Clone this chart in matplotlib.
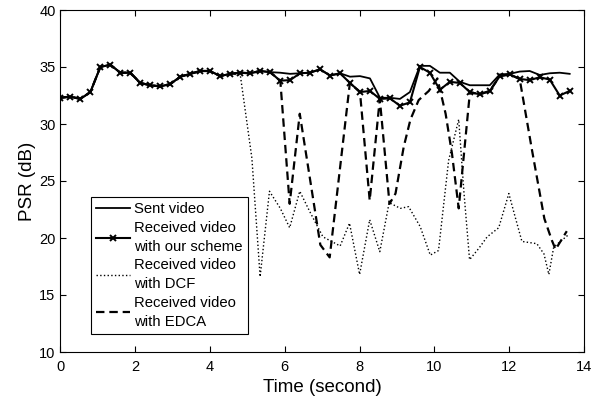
import numpy as np
import matplotlib
matplotlib.use("Agg")
import matplotlib.pyplot as plt

# datos (PSR en dB frente al tiempo en segundos)
t_rx = np.arange(52) * 0.267  # instantes de muestreo del video

psr_rx = [32.3, 32.4, 32.2, 32.8, 35.0, 35.2, 34.5, 34.5, 33.6, 33.4,
          33.3, 33.5, 34.15, 34.4, 34.65, 34.65, 34.2, 34.4, 34.5, 34.45,
          34.65, 34.55, 33.8, 33.85, 34.45, 34.5, 34.8, 34.25, 34.45, 33.6,
          32.8, 32.9, 32.2, 32.25, 31.6, 31.9, 35.0, 34.5, 33.0, 33.7,
          33.6, 32.8, 32.6, 32.9, 34.2, 34.35, 33.95, 33.85, 34.1, 33.9,
          32.5, 32.9]

psr_sent = [32.3, 32.4, 32.2, 32.8, 35.0, 35.2, 34.5, 34.5, 33.6, 33.4,
            33.3, 33.5, 34.15, 34.4, 34.65, 34.65, 34.2, 34.4, 34.5, 34.45,
            34.65, 34.55, 34.5, 34.4, 34.45, 34.5, 34.8, 34.25, 34.45, 34.15,
            34.2, 34.0, 32.3, 32.3, 32.2, 32.8, 35.1, 35.1, 34.5, 34.5,
            33.7, 33.4, 33.4, 33.4, 34.35, 34.4, 34.6, 34.65, 34.3, 34.45,
            34.5, 34.4]

# DCF: igual que el recibido hasta ~4.5 s, luego se cae
t_dcf_tail = [4.81, 5.12, 5.34, 5.59, 5.88, 6.13, 6.40, 6.67, 7.02, 7.48,
              7.73, 8.00, 8.27, 8.54, 8.79, 9.09, 9.31, 9.62, 9.89, 10.11,
              10.38, 10.65, 10.79, 10.94, 11.19, 11.41, 11.72, 11.99, 12.13, 12.34,
              12.74, 12.93, 13.06, 13.19, 13.37, 13.59]
psr_dcf_tail = [34.3, 27.0, 16.6, 24.1, 22.6, 20.9, 24.1, 22.3, 20.1, 19.3,
                21.3, 16.8, 21.6, 18.8, 23.1, 22.6, 22.75, 21.0, 18.5, 18.9,
                26.8, 30.4, 24.0, 18.1, 19.1, 20.1, 20.9, 23.9, 22.2, 19.7,
                19.5, 18.6, 16.8, 19.2, 19.7, 20.3]

# EDCA: igual que el recibido hasta ~5.6 s
t_edca_tail = [5.88, 6.13, 6.40, 6.95, 7.20, 7.74, 8.01, 8.27, 8.54, 8.80,
               8.96, 9.18, 9.36, 9.58, 9.85, 10.08, 10.30, 10.47, 10.65, 10.95,
               11.21, 11.48, 11.75, 12.01, 12.28, 12.61, 12.94, 13.14, 13.24, 13.54]
psr_edca_tail = [33.8, 23.0, 30.9, 19.4, 18.3, 33.6, 32.8, 23.3, 32.2, 23.0,
                 23.9, 28.0, 30.4, 32.1, 32.9, 34.0, 30.9, 27.4, 22.6, 32.8,
                 32.6, 32.9, 34.2, 34.35, 33.95, 27.7, 21.7, 19.8, 19.0, 20.6]

n_dcf = 18   # puntos compartidos con el recibido
n_edca = 22

etiquetas = ["Sent video",
             "Received video\nwith our scheme",
             "Received video\nwith DCF",
             "Received video\nwith EDCA"]


def grafico():
    '''
    figura estilo matlab, todo en negro
    '''
    plt.rcParams['font.family'] = ['Liberation Sans', 'DejaVu Sans']
    fig = plt.figure(figsize=(5.92, 3.98), dpi=100)
    ax = fig.add_axes([60.4 / 592, 46 / 398, 523.6 / 592, 342 / 398])

    t_dcf = np.concatenate([t_rx[:n_dcf], t_dcf_tail])
    y_dcf = np.concatenate([psr_rx[:n_dcf], psr_dcf_tail])
    t_edca = np.concatenate([t_rx[:n_edca], t_edca_tail])
    y_edca = np.concatenate([psr_rx[:n_edca], psr_edca_tail])

    ax.plot(t_rx, psr_sent, '-', color='k', lw=1.3, label=etiquetas[0])
    ax.plot(t_rx, psr_rx, '-', color='k', lw=1.5, marker='x', ms=5,
            mew=1.4, label=etiquetas[1])
    ax.plot(t_dcf, y_dcf, ':', color='k', lw=1.0, label=etiquetas[2])
    ax.plot(t_edca, y_edca, color='k', lw=1.6, dashes=(3.8, 2.2),
            label=etiquetas[3])

    ax.set_xlim(0, 14)
    ax.set_ylim(10, 40)
    ax.set_xticks(np.arange(0, 15, 2))
    ax.set_yticks(np.arange(10, 41, 5))
    ax.tick_params(direction='in', top=True, right=True, length=4,
                   labelsize=10.5, width=0.8)
    ax.tick_params(axis='x', pad=6)
    for sp in ax.spines.values():
        sp.set_linewidth(0.8)
    ax.set_xlabel("Time (second)", fontsize=13.5, labelpad=3)
    ax.set_ylabel("PSR (dB)", fontsize=13.5, labelpad=2)

    leg = ax.legend(loc='lower left', bbox_to_anchor=(0.058, 0.053),
                    fontsize=10.7, frameon=True, fancybox=False,
                    edgecolor='k', framealpha=1, handlelength=2.3,
                    handletextpad=0.25, labelspacing=0.3,
                    borderpad=0.35, borderaxespad=0)
    leg.get_frame().set_linewidth(0.8)
    for txt in leg.get_texts():
        txt.set_linespacing(1.45)

    fig.savefig("out.png", dpi=100)
    plt.close(fig)


if __name__ == "__main__":
    grafico()
